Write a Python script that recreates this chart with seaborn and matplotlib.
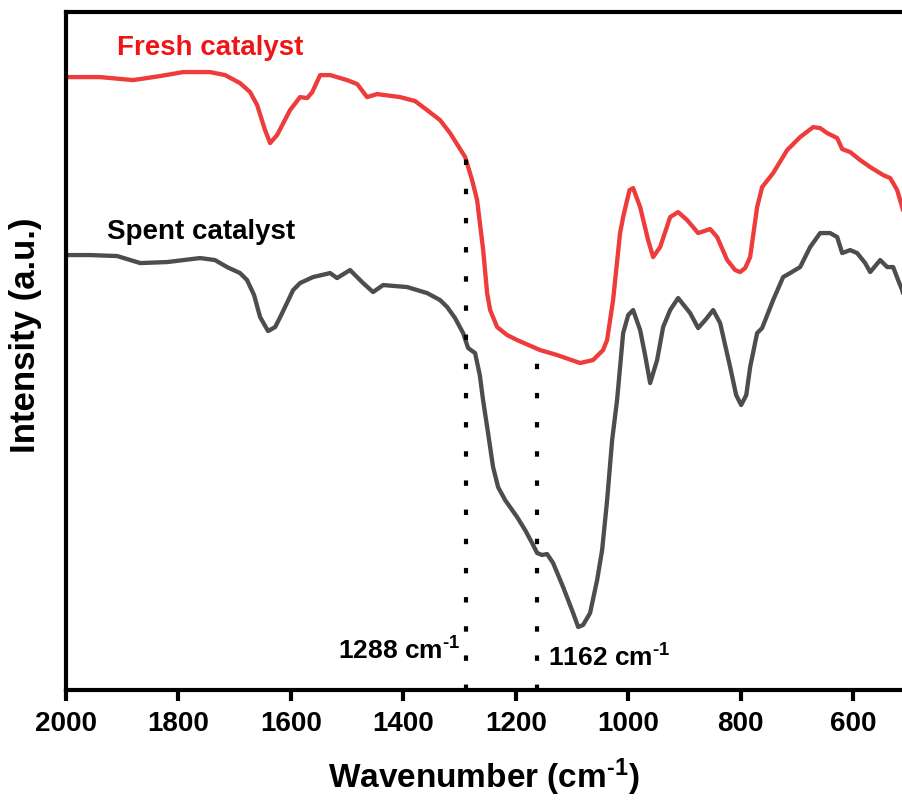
import numpy as np
import pandas as pd
import matplotlib
matplotlib.use("Agg")
import matplotlib.pyplot as plt
import seaborn as sns

# wavenumber (cm-1) and intensity (a.u.)
fresh_wn = [2000, 1939.5, 1880.8, 1832.8, 1791.8, 1743.8, 1717, 1690.5, 1672.6, 1660,
            1646, 1637, 1624.6, 1601.5, 1583.7, 1571, 1562, 1548, 1530, 1500,
            1482, 1464.5, 1446.7, 1405.8, 1379, 1357.8, 1334.7, 1316.9, 1290, 1277.7,
            1268.8, 1258, 1251, 1245.6, 1233.2, 1215.4, 1197.7, 1156.8, 1126.5, 1085.6,
            1062.5, 1044.7, 1037.6, 1026.9, 1014.5, 1009, 1002, 997.5, 991.3, 988.6,
            978.8, 964.6, 955.7, 943.2, 925.4, 911.2, 895.2, 875.6, 854.3, 841.8,
            824, 809.8, 800.9, 792, 783.1, 770.7, 761.8, 742.2, 717.3, 694.2,
            671, 658.6, 646.1, 628.3, 619.4, 605.2, 587.4, 569.6, 546.5, 534,
            521.6, 512.7, 509]
fresh_int = [6.13, 6.13, 6.10, 6.14, 6.18, 6.18, 6.15, 6.07, 5.98, 5.85,
             5.60, 5.47, 5.55, 5.80, 5.93, 5.92, 5.98, 6.15, 6.15, 6.10,
             6.06, 5.93, 5.96, 5.93, 5.89, 5.80, 5.70, 5.57, 5.33, 5.10,
             4.90, 4.40, 3.97, 3.80, 3.63, 3.55, 3.50, 3.40, 3.35, 3.27,
             3.30, 3.40, 3.50, 3.90, 4.57, 4.73, 4.90, 5.00, 5.02, 4.98,
             4.83, 4.50, 4.33, 4.43, 4.73, 4.78, 4.70, 4.57, 4.61, 4.53,
             4.30, 4.20, 4.18, 4.22, 4.33, 4.83, 5.03, 5.17, 5.40, 5.53,
             5.63, 5.62, 5.57, 5.52, 5.41, 5.38, 5.30, 5.23, 5.15, 5.12,
             5.00, 4.83, 4.75]

spent_wn = [1998, 1957, 1909, 1868, 1820, 1761.6, 1735, 1713.6, 1690.5, 1678,
            1665.5, 1654.8, 1640.6, 1628, 1619, 1596, 1583.7, 1560.6, 1530.3, 1517.9,
            1494.8, 1471.6, 1453.8, 1436, 1393.3, 1357.8, 1334.7, 1322, 1308, 1293.7,
            1284.8, 1272.4, 1264, 1258.2, 1249.3, 1240.4, 1231.5, 1219, 1197.7, 1183.4,
            1171, 1162, 1153.2, 1144.3, 1133.6, 1115.8, 1098, 1089, 1080.3, 1067.8,
            1055.3, 1046.4, 1037.5, 1028.6, 1019.8, 1009, 1000, 991.3, 978.8, 970,
            961, 948.6, 937.9, 925.4, 911.2, 889.9, 875.6, 863, 848.9, 836.5,
            818.7, 808, 799.1, 790, 783.1, 770.7, 761.8, 742.2, 724.4, 712,
            694.2, 676.4, 658.6, 640.8, 628.3, 619.4, 605.2, 592.8, 578.5, 569.6,
            551.8, 539.4, 528.7, 519.9, 512.7, 509]
spent_int = [4.35, 4.35, 4.34, 4.27, 4.28, 4.32, 4.30, 4.23, 4.17, 4.10,
             3.95, 3.73, 3.59, 3.63, 3.73, 4.00, 4.07, 4.13, 4.17, 4.12,
             4.20, 4.07, 3.98, 4.05, 4.03, 3.97, 3.90, 3.83, 3.72, 3.57,
             3.42, 3.37, 3.15, 2.90, 2.57, 2.23, 2.03, 1.90, 1.73, 1.60,
             1.47, 1.37, 1.35, 1.36, 1.27, 1.03, 0.77, 0.63, 0.65, 0.77,
             1.10, 1.40, 1.90, 2.50, 2.90, 3.57, 3.75, 3.80, 3.60, 3.35,
             3.07, 3.30, 3.63, 3.80, 3.92, 3.77, 3.62, 3.70, 3.80, 3.67,
             3.23, 2.95, 2.85, 2.95, 3.23, 3.57, 3.62, 3.90, 4.13, 4.17,
             4.23, 4.43, 4.57, 4.57, 4.53, 4.37, 4.40, 4.37, 4.27, 4.18,
             4.30, 4.23, 4.23, 4.10, 4.00, 3.92]

marker_wn = [1288, 1162]
marker_top = [5.33, 3.45]
marker_labels = ["1288 cm$^{\\text{-1}}$", "1162 cm$^{\\text{-1}}$"]

sns.set_style("ticks")
plt.rcParams["font.family"] = ["Liberation Sans", "DejaVu Sans"]
plt.rcParams["font.weight"] = "bold"
plt.rcParams["text.color"] = "black"
plt.rcParams["axes.labelcolor"] = "black"
plt.rcParams["xtick.color"] = "black"
plt.rcParams["mathtext.fontset"] = "custom"
plt.rcParams["mathtext.rm"] = "Liberation Sans:bold"
plt.rcParams["mathtext.it"] = "Liberation Sans:bold"
plt.rcParams["mathtext.bf"] = "Liberation Sans:bold"
plt.rcParams["mathtext.default"] = "rm"

fresh = pd.DataFrame({"wn": fresh_wn, "intensity": fresh_int})
spent = pd.DataFrame({"wn": spent_wn, "intensity": spent_int})

fig = plt.figure(figsize=(9.02, 8.07), dpi=100)
ax = fig.add_axes([0.0732, 0.145, 0.9268, 0.840])

sns.lineplot(data=fresh, x="wn", y="intensity", color="#ee3b3b", lw=3.1,
             ax=ax, solid_joinstyle="round", solid_capstyle="round")
sns.lineplot(data=spent, x="wn", y="intensity", color="#4d4d4d", lw=3.1,
             ax=ax, solid_joinstyle="round", solid_capstyle="round")

ax.vlines(marker_wn, 0, marker_top, colors="black", lw=3,
          linestyles=(0, (1.3, 5.7)))

ax.text(1298, 0.30, marker_labels[0], ha="right", va="baseline",
        fontsize=19, fontweight="bold")
ax.text(1143, 0.23, marker_labels[1], ha="left", va="baseline",
        fontsize=19, fontweight="bold")
ax.text(1910, 6.42, "Fresh catalyst", color="#f01515", fontsize=20,
        fontweight="bold", va="center")
ax.text(1927, 4.58, "Spent catalyst", color="black", fontsize=20,
        fontweight="bold", va="center")

ax.set_xlim(2000, 513)
ax.set_ylim(0, 6.78)
ax.set_xticks([2000, 1800, 1600, 1400, 1200, 1000, 800, 600])
ax.set_yticks([])
ax.set_xlabel("Wavenumber (cm$^{\\text{-1}}$)", fontsize=24, fontweight="bold", labelpad=14)
ax.set_ylabel("Intensity (a.u.)", fontsize=25, fontweight="bold",
              ha="center", va="center")
ax.yaxis.set_label_coords(-0.049, 0.524)
ax.tick_params(axis="x", labelsize=20, width=3, length=8, direction="out", pad=7)
for lbl in ax.get_xticklabels():
    lbl.set_fontweight("bold")

for side in ["left", "bottom", "top"]:
    ax.spines[side].set_linewidth(3)
    ax.spines[side].set_color("black")
ax.spines["right"].set_visible(False)

fig.savefig("out.png", dpi=100)
